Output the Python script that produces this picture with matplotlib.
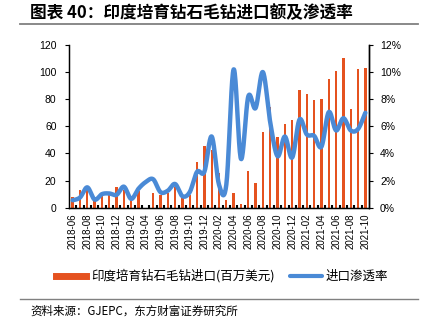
import numpy as np
import matplotlib
matplotlib.use("Agg")
import matplotlib.pyplot as plt
from matplotlib.lines import Line2D
from matplotlib.ticker import FuncFormatter, FixedLocator

plt.rcParams["font.family"] = ["Liberation Sans", "Noto Sans CJK SC", "DejaVu Sans"]
CJK = ["Noto Sans CJK SC", "DejaVu Sans"]

# months 2018-06 .. 2021-10
months = []
y, m = 2018, 6
while (y, m) <= (2021, 10):
    months.append(f"{y}-{m:02d}")
    m += 1
    if m > 12:
        y, m = y + 1, 1

# import value of lab-grown rough diamonds (million USD)
imports = [8, 13, 14, 6, 9, 10, 15, 13, 6, 12,
           0, 11, 9.5, 10.5, 15.5, 7, 9, 33.5, 45.5, 42.5,
           25.5, 5.5, 11, 2.5, 27, 18, 55.5, 74, 52.5, 62,
           64.5, 86.5, 84, 79.5, 80, 95, 101, 110.5, 73, 102, 103]
# import penetration rate (%)
rate = [0.55, 0.75, 1.5, 0.6, 1.0, 1.05, 0.95, 1.55, 0.65, 1.4,
        1.9, 2.1, 1.15, 1.25, 1.75, 0.85, 1.15, 2.65, 2.65, 5.25,
        1.7, 1.7, 10.2, 3.6, 8.2, 7.35, 10.0, 6.3, 3.8, 5.25,
        3.7, 6.5, 5.4, 5.3, 4.5, 7.05, 5.7, 6.6, 5.7, 5.8, 7.0]

bar_color = "#E5521F"
line_color = "#4A8AD6"


def smooth(xs, ys, n=20):
    # catmull-rom curve through the points (like excel's smoothed line)
    p = np.column_stack([xs, ys]).astype(float)
    p = np.vstack([p[0], p, p[-1]])
    out = []
    for i in range(1, len(p) - 2):
        p0, p1, p2, p3 = p[i - 1], p[i], p[i + 1], p[i + 2]
        t = np.linspace(0, 1, n, endpoint=False)[:, None]
        c = 0.5 * ((2 * p1) + (-p0 + p2) * t + (2 * p0 - 5 * p1 + 4 * p2 - p3) * t ** 2
                   + (-p0 + 3 * p1 - 3 * p2 + p3) * t ** 3)
        out.append(c)
    out.append(p[-2][None, :])
    c = np.vstack(out)
    return c[:, 0], c[:, 1]


fig = plt.figure(figsize=(4.26, 3.26), dpi=100)
ax = fig.add_axes([69 / 426, 1 - 207.7 / 326, 300 / 426, 162.7 / 326])
x = np.arange(len(months))
ax.bar(x, imports, width=0.32, color=bar_color, zorder=2)
ax.set_xlim(-0.5, len(months) - 0.5)
ax.set_ylim(0, 120)
ax.set_yticks(range(0, 121, 20))
ax.tick_params(axis="y", labelsize=7.5, length=3, width=0.8, pad=6, direction="out")

ax.xaxis.set_major_locator(FixedLocator(x[::2]))
ax.set_xticklabels(months[::2], rotation=90, fontsize=7)
ax.xaxis.set_minor_locator(FixedLocator(x[:-1] + 0.5))
ax.tick_params(axis="x", which="major", length=0, pad=4)
ax.tick_params(axis="x", which="minor", length=2.5, width=1.5, direction="in")
ax.spines["top"].set_visible(False)
for s in ["left", "bottom", "right"]:
    ax.spines[s].set_linewidth(1.0)

ax2 = ax.twinx()
sx, sy = smooth(x, rate)
ax2.plot(sx, sy, color=line_color, lw=3.2, solid_capstyle="round", zorder=3)
ax2.set_ylim(0, 12)
ax2.set_yticks(range(0, 13, 2))
ax2.yaxis.set_major_formatter(FuncFormatter(lambda v, p: f"{v:.0f}%"))
ax2.tick_params(axis="y", labelsize=7.5, length=3, width=0.8, pad=5, direction="out")
ax2.spines["top"].set_visible(False)
ax2.spines["right"].set_linewidth(1.0)
ax2.set_xlim(-0.5, len(months) - 0.5)

# title and rules
fig.text(30 / 426, 1 - 13 / 326, "图表 40：印度培育钻石毛钻进口额及渗透率", family=CJK,
         fontsize=12, fontweight="bold", va="center", ha="left")
fig.add_artist(Line2D([20 / 426, 418 / 426], [1 - 24 / 326] * 2, color="#808080", lw=1.3))
fig.add_artist(Line2D([20 / 426, 418 / 426], [1 - 299 / 326] * 2, color="#808080", lw=1.0))
fig.text(30 / 426, 1 - 311 / 326, "资料来源：GJEPC，东方财富证券研究所", family=CJK,
         fontsize=8.3, va="center", ha="left")

# legend
ly = 1 - 276 / 326
fig.add_artist(Line2D([56 / 426, 86 / 426], [ly, ly], color=bar_color, lw=5))
fig.text(91 / 426, ly, "印度培育钻石毛钻进口(百万美元)", family=CJK, fontsize=9, va="center")
fig.add_artist(Line2D([290 / 426, 322 / 426], [ly, ly], color=line_color, lw=3,
                      solid_capstyle="round"))
fig.text(326 / 426, ly, "进口渗透率", family=CJK, fontsize=9, va="center")

fig.savefig("out.png", dpi=100)
